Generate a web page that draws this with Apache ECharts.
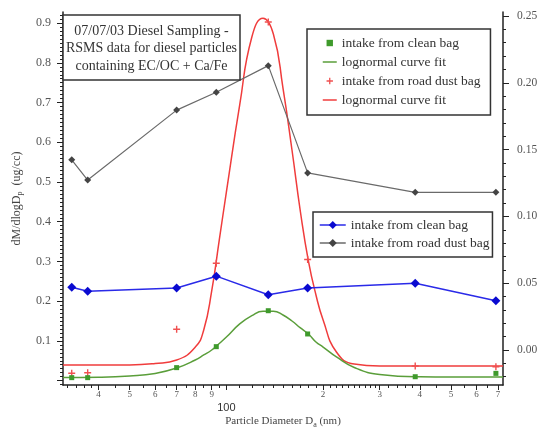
<!DOCTYPE html>
<html><head><meta charset="utf-8">
<script src="https://cdn.jsdelivr.net/npm/echarts@6/dist/echarts.min.js"></script>
<style>html,body{margin:0;padding:0;background:#fff}#c{width:557px;height:430px}</style>
</head><body><div id="c"></div>
<script>
// ---- data ----
const diameters = [33, 37, 70, 93, 135, 179, 387, 690];
const cleanBagMass = [0.235, 0.225, 0.233, 0.263, 0.216, 0.233, 0.245, 0.201];
const roadDustMass = [0.556, 0.505, 0.681, 0.726, 0.793, 0.523, 0.474, 0.474];
const cleanBagRSMS = [-0.0207, -0.0207, -0.0132, 0.0025, 0.0294, 0.0120, -0.0200, -0.0175];
const roadDustRSMS = [-0.0174, -0.0170, 0.0155, 0.0649, 0.2455, 0.0677, -0.0120, -0.0125];

const fitDiameters = [31, 40, 50, 60, 70, 80, 85, 90, 95, 100, 110, 120, 130, 140, 150, 160, 170, 180, 190, 200, 220, 250, 300, 400, 500, 600, 726];
const cleanBagFit = [-0.0206, -0.0204, -0.0195, -0.0176, -0.0135, -0.0075, -0.0037, 0.0000, 0.0049, 0.0097, 0.0195, 0.0257, 0.0290, 0.0290, 0.0262, 0.0217, 0.0165, 0.0120, 0.0060, 0.0022, -0.0052, -0.0131, -0.0183, -0.0201, -0.0202, -0.0202, -0.0202];
const roadDustFit = [-0.0112, -0.0112, -0.0112, -0.0101, -0.0075, 0.0022, 0.0150, 0.0442, 0.0823, 0.1183, 0.1834, 0.2343, 0.2483, 0.2365, 0.1961, 0.1497, 0.1033, 0.0666, 0.0412, 0.0225, -0.0015, -0.0105, -0.0120, -0.0120, -0.0120, -0.0120, -0.0120];

// ---- ticks ----
const xMajorTicks = [40, 50, 60, 70, 80, 90, 100, 200, 300, 400, 500, 600, 700];
const xTickLabels = ['4', '5', '6', '7', '8', '9', '100', '2', '3', '4', '5', '6', '7'];
const xMinorTicks = [32, 34, 36, 38, 45, 55, 65, 75, 85, 95, 110, 120, 130, 140, 150, 160, 170, 180, 190, 210, 220, 230, 240, 250, 260, 270, 280, 290, 320, 340, 360, 380, 450, 550, 650];
const leftTicks = [0, 0.1, 0.2, 0.3, 0.4, 0.5, 0.6, 0.7, 0.8, 0.9];
const leftTickLabels = ['', '0.1', '0.2', '0.3', '0.4', '0.5', '0.6', '0.7', '0.8', '0.9'];
const rightTicks = [0, 0.05, 0.10, 0.15, 0.20, 0.25];
const rightTickLabels = ['0.00', '0.05', '0.10', '0.15', '0.20', '0.25'];

const leftMinor = [];
for (let i = -1; i <= 92; i++) if (i % 10 !== 0) leftMinor.push(i / 100);
const rightMinor = [];
for (let i = -2; i <= 25; i++) if (i % 5 !== 0) rightMinor.push(i / 100);

function pick(ticks, labels, v) {
  for (let i = 0; i < ticks.length; i++) {
    if (Math.abs(ticks[i] - v) <= 1e-6 * Math.max(1, Math.abs(ticks[i]))) return labels[i];
  }
  return '';
}

const SERIF = '"Liberation Serif", "DejaVu Serif", serif';
const X_MIN = 31, X_MAX = 726;
const L_MIN = -0.011, L_MAX = 0.928;
const R_MIN = -0.0262, R_MAX = 0.253;

const pairs = (xs, ys) => xs.map((x, i) => [x, ys[i]]);

const chart = echarts.init(document.getElementById('c'), null, { renderer: 'canvas' });
chart.setOption({
  animation: false,
  backgroundColor: '#fff',
  grid: { left: 63, right: 54, top: 12, bottom: 45, containLabel: false, outerBoundsMode: 'none' },
  xAxis: [
    {
      type: 'log', logBase: 10, min: X_MIN, max: X_MAX, position: 'bottom',
      name: 'Particle Diameter D{sub|a} (nm)', nameLocation: 'middle', nameGap: 29, nameMoveOverlap: false,
      nameTextStyle: { fontFamily: SERIF, fontSize: 11, color: '#444', rich: { sub: { fontFamily: SERIF, fontSize: 8, color: '#444', padding: [7, 0, 0, 0] } } },
      axisLine: { show: true, onZero: false, lineStyle: { color: '#222', width: 1.5 } },
      axisTick: { show: true, customValues: xMajorTicks, length: 5, lineStyle: { color: '#222' } },
      axisLabel: {
        customValues: xMajorTicks, margin: 5,
        formatter: v => { const t = pick(xMajorTicks, xTickLabels, v); return t === '100' ? '{b|100}' : '{s|' + t + '}'; },
        rich: {
          s: { fontFamily: SERIF, fontSize: 9, color: '#555' },
          b: { fontFamily: 'Liberation Sans, Arial, sans-serif', fontSize: 11, color: '#333', padding: [12, 0, 0, 0] }
        }
      },
      splitLine: { show: false }
    },
    {
      type: 'log', logBase: 10, min: X_MIN, max: X_MAX, position: 'bottom',
      axisLine: { show: false, onZero: false },
      axisTick: { show: true, customValues: xMinorTicks, length: 3, lineStyle: { color: '#222' } },
      axisLabel: { show: false },
      splitLine: { show: false }
    }
  ],
  yAxis: [
    {
      type: 'value', min: L_MIN, max: L_MAX, position: 'left',
      name: 'dM/dlogD{sub|p}  (ug/cc)', nameLocation: 'middle', nameGap: 39, nameMoveOverlap: false,
      nameTextStyle: { fontFamily: SERIF, fontSize: 12, color: '#444', rich: { sub: { fontFamily: SERIF, fontSize: 8, color: '#444', padding: [7, 0, 0, 0] } } },
      axisLine: { show: true, onZero: false, lineStyle: { color: '#222', width: 1.5 } },
      axisTick: { show: true, customValues: leftTicks, length: 6, lineStyle: { color: '#222' } },
      axisLabel: { customValues: leftTicks, margin: 12, fontFamily: SERIF, fontSize: 12, color: '#555',
        formatter: v => pick(leftTicks, leftTickLabels, v) },
      splitLine: { show: false }
    },
    {
      type: 'value', min: L_MIN, max: L_MAX, position: 'left',
      axisLine: { show: false, onZero: false },
      axisTick: { show: true, customValues: leftMinor, length: 3, lineStyle: { color: '#222' } },
      axisLabel: { show: false },
      splitLine: { show: false }
    },
    {
      type: 'value', min: R_MIN, max: R_MAX, position: 'right',
      axisLine: { show: true, onZero: false, lineStyle: { color: '#222', width: 1.5 } },
      axisTick: { show: true, customValues: rightTicks, length: 6, lineStyle: { color: '#222' } },
      axisLabel: { customValues: rightTicks, margin: 14, fontFamily: SERIF, fontSize: 11.5, color: '#555',
        formatter: v => pick(rightTicks, rightTickLabels, v) },
      splitLine: { show: false }
    },
    {
      type: 'value', min: R_MIN, max: R_MAX, position: 'right',
      axisLine: { show: false, onZero: false },
      axisTick: { show: true, customValues: rightMinor, length: 3, lineStyle: { color: '#222' } },
      axisLabel: { show: false },
      splitLine: { show: false }
    }
  ],
  legend: [
    {
      orient: 'vertical', left: 307, top: 29, selectedMode: false,
      padding: [7, 10, 8, 15], itemGap: 5, itemWidth: 14, itemHeight: 8,
      borderColor: '#333', borderWidth: 1.5, backgroundColor: '#fff',
      textStyle: { fontFamily: SERIF, fontSize: 13.5, color: '#333' },
      lineStyle: { width: 1.5 },
      formatter: n => n.trim(),
      data: [
        { name: 'intake from clean bag ' },
        { name: 'lognormal curve fit', itemStyle: { opacity: 0 } },
        { name: 'intake from road dust bag ' },
        { name: 'lognormal curve fit ', itemStyle: { opacity: 0 } }
      ]
    },
    {
      orient: 'vertical', left: 313, top: 212, selectedMode: false,
      padding: [6, 3, 7, 6], itemGap: 4, itemWidth: 26, itemHeight: 10,
      borderColor: '#333', borderWidth: 1.5, backgroundColor: '#fff',
      textStyle: { fontFamily: SERIF, fontSize: 13.5, color: '#333' },
      lineStyle: { width: 1.5 },
      formatter: n => n.trim(),
      data: ['intake from clean bag', 'intake from road dust bag']
    }
  ],
  graphic: [
    { type: 'rect', z: 10, shape: { x: 63, y: 15, width: 177, height: 65 }, style: { fill: '#fff', stroke: '#333', lineWidth: 1.5 } },
    { type: 'text', z: 11, x: 151.5, y: 22.5, style: { text: '07/07/03 Diesel Sampling -\nRSMS data for diesel particles\ncontaining EC/OC + Ca/Fe', font: '14px "Liberation Serif"', textAlign: 'center', align: 'center', textVerticalAlign: 'top', verticalAlign: 'top', lineHeight: 17.5, fill: '#333' } }
  ],
  series: [
    {
      name: 'lognormal curve fit ', type: 'line', xAxisIndex: 0, yAxisIndex: 2,
      data: pairs(fitDiameters, roadDustFit), smooth: 0.5, symbol: 'none',
      lineStyle: { color: '#f03c3c', width: 1.5 }, itemStyle: { color: '#f03c3c' }, z: 2
    },
    {
      name: 'lognormal curve fit', type: 'line', xAxisIndex: 0, yAxisIndex: 2,
      data: pairs(fitDiameters, cleanBagFit), smooth: 0.5, symbol: 'none',
      lineStyle: { color: '#5a9e3a', width: 1.5 }, itemStyle: { color: '#5a9e3a' }, z: 2
    },
    {
      name: 'intake from road dust bag ', type: 'line', xAxisIndex: 0, yAxisIndex: 2,
      data: pairs(diameters, roadDustRSMS),
      symbol: 'path://M4,0H6V4H10V6H6V10H4V6H0V4H4Z', symbolSize: 7,
      lineStyle: { width: 0, opacity: 0 }, itemStyle: { color: '#f05050' }, z: 3
    },
    {
      name: 'intake from clean bag ', type: 'line', xAxisIndex: 0, yAxisIndex: 2,
      data: pairs(diameters, cleanBagRSMS),
      symbol: 'rect', symbolSize: 5,
      lineStyle: { width: 0, opacity: 0 }, itemStyle: { color: '#3f9a2c' }, z: 3
    },
    {
      name: 'intake from road dust bag', type: 'line', xAxisIndex: 0, yAxisIndex: 0,
      data: pairs(diameters, roadDustMass),
      symbol: 'diamond', symbolSize: 7,
      lineStyle: { color: '#6a6a6a', width: 1.2 }, itemStyle: { color: '#444' }, z: 4
    },
    {
      name: 'intake from clean bag', type: 'line', xAxisIndex: 0, yAxisIndex: 0,
      data: pairs(diameters, cleanBagMass),
      symbol: 'diamond', symbolSize: 9,
      lineStyle: { color: '#2a2ae8', width: 1.5 }, itemStyle: { color: '#0a0ad0' }, z: 4
    }
  ]
});
</script>
</body></html>
